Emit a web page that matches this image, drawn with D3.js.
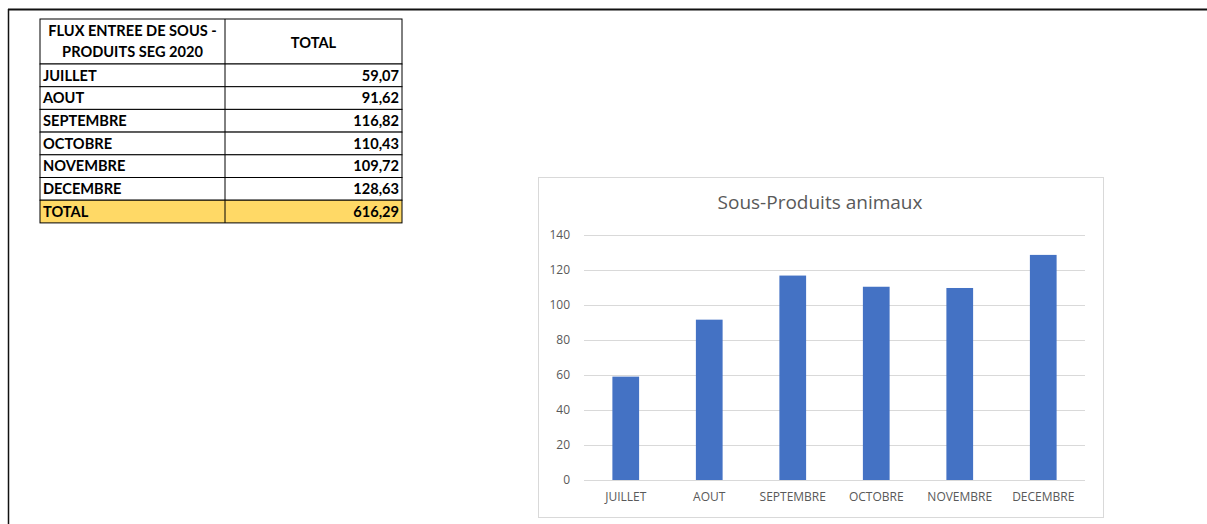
<!DOCTYPE html>
<html>
<head>
<meta charset="utf-8">
<script src="https://cdn.jsdelivr.net/npm/d3@7"></script>
<style>
  body { margin: 0; background: #fff; }
  svg { display: block; font-family: Lato, "Open Sans", sans-serif; }
</style>
</head>
<body>
<svg width="1207" height="524"></svg>
<script>
// data read from the sheet
const months = ['JUILLET', 'AOUT', 'SEPTEMBRE', 'OCTOBRE', 'NOVEMBRE', 'DECEMBRE'];
const values = [59.07, 91.62, 116.82, 110.43, 109.72, 128.63];
const yTicks = [0, 20, 40, 60, 80, 100, 120, 140];
const headerLines = ['FLUX ENTREE DE SOUS -', 'PRODUITS SEG 2020'];
const chartTitle = 'Sous-Produits animaux';

const svg = d3.select('svg');
const fr = d3.formatLocale({decimal: ',', thousands: ' ', grouping: [3], currency: ['', '']});
const fmt = fr.format('.2f');

// sheet frame
svg.append('line').attr('x1', 8).attr('x2', 1207).attr('y1', 9.5).attr('y2', 9.5)
    .style('stroke', '#111').style('stroke-width', 2);
svg.append('line').attr('x1', 8.5).attr('x2', 8.5).attr('y1', 9).attr('y2', 524)
    .style('stroke', '#111').style('stroke-width', 1.5);

// ---- table ----
const tbl = svg.append('g').attr('class', 'table');
const colX = [40, 225, 402];
const rowTop = 19, headH = 45, rowH = 22.7;
const cellFont = '14.6px';
const rows = months.map((m, i) => ({label: m, value: values[i]}));
rows.push({label: 'TOTAL', value: d3.sum(values), total: true});

tbl.append('rect').attr('x', colX[0]).attr('y', rowTop)
    .attr('width', colX[2] - colX[0]).attr('height', headH)
    .style('fill', '#fff').style('stroke', '#000');
tbl.append('line').attr('x1', colX[1]).attr('x2', colX[1])
    .attr('y1', rowTop).attr('y2', rowTop + headH).style('stroke', '#000');
tbl.selectAll('.hd').data(headerLines).enter().append('text')
    .attr('x', (colX[0] + colX[1]) / 2)
    .attr('y', (d, i) => rowTop + 17 + i * 21)
    .style('text-anchor', 'middle').style('font-weight', 'bold').style('font-size', cellFont)
    .text(d => d);
tbl.append('text').attr('x', (colX[1] + colX[2]) / 2).attr('y', rowTop + 29)
    .style('text-anchor', 'middle').style('font-weight', 'bold').style('font-size', cellFont)
    .text('TOTAL');

const row = tbl.selectAll('.row').data(rows).enter().append('g')
    .attr('class', 'row')
    .attr('transform', (d, i) => `translate(0,${rowTop + headH + i * rowH})`);
row.append('rect').attr('x', colX[0]).attr('width', colX[2] - colX[0]).attr('height', rowH)
    .style('fill', d => d.total ? '#ffd966' : '#fff').style('stroke', '#000');
row.append('line').attr('x1', colX[1]).attr('x2', colX[1]).attr('y1', 0).attr('y2', rowH)
    .style('stroke', '#000');
row.append('text').attr('x', colX[0] + 3).attr('y', 16.5)
    .style('font-weight', 'bold').style('font-size', cellFont).text(d => d.label);
row.append('text').attr('x', colX[2] - 3).attr('y', 16.5)
    .style('text-anchor', 'end').style('font-weight', 'bold').style('font-size', cellFont)
    .text(d => fmt(d.value));

// ---- chart ----
const box = {x: 538, y: 177, w: 565, h: 340};
svg.append('rect').attr('x', box.x + 0.5).attr('y', box.y + 0.5)
    .attr('width', box.w).attr('height', box.h)
    .style('fill', '#fff').style('stroke', '#d9d9d9');

svg.append('text').attr('x', 820).attr('y', 209)
    .style('text-anchor', 'middle').style('font-size', '19px').style('fill', '#595959')
    .style('font-family', '"Open Sans", Lato, sans-serif')
    .text(chartTitle);

const x = d3.scaleBand().domain(months).range([584, 1085]).paddingInner(0.68).paddingOuter(0.34);
const y = d3.scaleLinear().domain([0, 140]).range([480, 235]);

const grid = svg.append('g').attr('transform', 'translate(584,0)')
    .call(d3.axisLeft(y).tickValues(yTicks).tickSize(-501).tickFormat(''));
grid.select('.domain').remove();
grid.selectAll('line').style('stroke', '#d9d9d9');

const yAx = svg.append('g').attr('transform', 'translate(573,0)')
    .call(d3.axisLeft(y).tickValues(yTicks).tickSize(0));
yAx.select('.domain').remove();
yAx.selectAll('text').style('fill', '#595959').style('font-size', '12px')
    .style('font-family', '"Open Sans", Lato, sans-serif');

svg.selectAll('.bar').data(values).enter().append('rect')
    .attr('class', 'bar')
    .attr('x', (d, i) => x(months[i]))
    .attr('width', x.bandwidth())
    .attr('y', d => y(d))
    .attr('height', d => y(0) - y(d))
    .style('fill', '#4472c4');

const xAx = svg.append('g').attr('transform', 'translate(0,480)')
    .call(d3.axisBottom(x).tickSize(0).tickPadding(12));
xAx.select('.domain').remove();
xAx.selectAll('text').style('fill', '#595959').style('font-size', '12px')
    .style('font-family', '"Open Sans", Lato, sans-serif');
</script>
</body>
</html>
